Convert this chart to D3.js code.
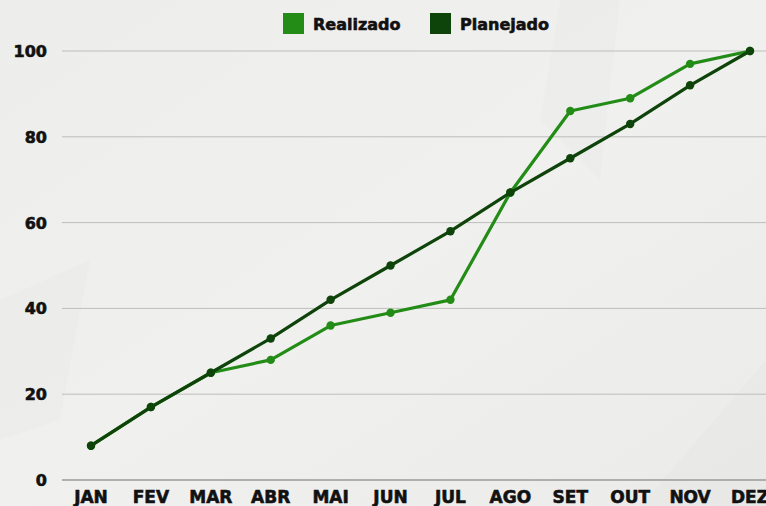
<!DOCTYPE html>
<html>
<head>
<meta charset="utf-8">
<script src="https://cdn.jsdelivr.net/npm/d3@7"></script>
<style>
  html, body { margin: 0; padding: 0; background: #eeeeec; overflow: hidden; }
  #chart-area { width: 766px; height: 506px; }
  text { font-family: "DejaVu Sans", sans-serif; font-weight: bold; fill: #111; stroke: #111; stroke-width: 0.6px; }
</style>
</head>
<body>
<div id="chart-area"></div>
<script>
// Chart data
const months = ["JAN", "FEV", "MAR", "ABR", "MAI", "JUN", "JUL", "AGO", "SET", "OUT", "NOV", "DEZ"];
const realizado = [8, 17, 25, 28, 36, 39, 42, 67, 86, 89, 97, 100];
const planejado = [8, 17, 25, 33, 42, 50, 58, 67, 75, 83, 92, 100];
const yTicks = [0, 20, 40, 60, 80, 100];

const series = [
  { name: "Realizado", values: realizado, color: "#238c17" },
  { name: "Planejado", values: planejado, color: "#0e430a" }
];

const width = 766;
const height = 506;

const svg = d3.select("#chart-area")
  .append("svg")
  .attr("width", width)
  .attr("height", height);

// Paper-like background with a few soft creases
const defs = svg.append("defs");
const grad = defs.append("linearGradient")
  .attr("id", "paper")
  .attr("x1", "0").attr("y1", "0").attr("x2", "1").attr("y2", "1");
grad.append("stop").attr("offset", "0%").attr("stop-color", "#ededeb");
grad.append("stop").attr("offset", "50%").attr("stop-color", "#f0f0ee");
grad.append("stop").attr("offset", "100%").attr("stop-color", "#ebebe9");
svg.append("rect").attr("width", width).attr("height", height).attr("fill", "url(#paper)");

const creases = [
  "M560,0 L620,0 L600,180 L540,120 Z",
  "M640,506 L766,360 L766,506 Z",
  "M0,300 L90,260 L60,420 L0,440 Z"
];
svg.selectAll(".crease")
  .data(creases)
  .join("path")
  .attr("class", "crease")
  .attr("d", d => d)
  .attr("fill", "#000")
  .attr("opacity", 0.012);

// Scales
const x = d3.scalePoint()
  .domain(months)
  .range([91, 750]);

const y = d3.scaleLinear()
  .domain([0, 100])
  .range([480, 51]);

// Gridlines
svg.append("g")
  .selectAll("line")
  .data(yTicks)
  .join("line")
  .attr("x1", 62).attr("x2", width)
  .attr("y1", d => y(d)).attr("y2", d => y(d))
  .attr("stroke", d => d === 0 ? "#9a9a9a" : "#bdbdbb")
  .attr("stroke-width", d => d === 0 ? 1.5 : 1);

// Y tick labels
svg.append("g")
  .selectAll("text")
  .data(yTicks)
  .join("text")
  .attr("x", 47)
  .attr("y", d => y(d) + 6)
  .attr("text-anchor", "end")
  .attr("font-size", "16px")
  .text(d => d);

// X tick labels
svg.append("g")
  .selectAll("text")
  .data(months)
  .join("text")
  .attr("x", d => x(d))
  .attr("y", 503)
  .attr("text-anchor", "middle")
  .attr("font-size", "17px")
  .text(d => d);

// Lines
const line = d3.line()
  .x((d, i) => x(months[i]))
  .y(d => y(d));

// Draw Realizado first, Planejado on top
series.forEach(s => {
  svg.append("path")
    .datum(s.values)
    .attr("fill", "none")
    .attr("stroke", s.color)
    .attr("stroke-width", 3.2)
    .attr("stroke-linejoin", "round")
    .attr("d", line);

  svg.append("g")
    .selectAll("circle")
    .data(s.values)
    .join("circle")
    .attr("cx", (d, i) => x(months[i]))
    .attr("cy", d => y(d))
    .attr("r", 4.2)
    .attr("fill", s.color);
});

// Legend
const legendX = [283, 430];
const legend = svg.append("g")
  .selectAll("g")
  .data(series)
  .join("g")
  .attr("transform", (d, i) => `translate(${legendX[i]},13)`);

legend.append("rect")
  .attr("width", 21).attr("height", 21)
  .attr("fill", d => d.color);

legend.append("text")
  .attr("x", 30)
  .attr("y", 17)
  .attr("font-size", "16px")
  .text(d => d.name);
</script>
</body>
</html>
